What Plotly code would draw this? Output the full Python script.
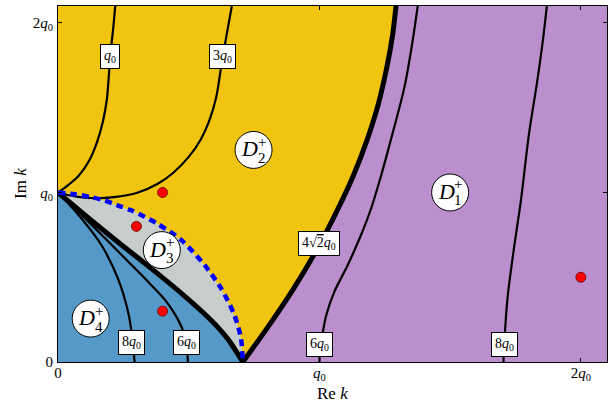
import plotly.graph_objects as go

# axis extent, in units of q0
X_MAX = 2.1
Y_MAX = 2.1

# thick boundary D4 / D3 (from k = i q0 down to the real axis)
bnd_a_x = [0.0, 0.12, 0.24, 0.36, 0.48, 0.58, 0.65, 0.707]
bnd_a_y = [1.0, 0.845, 0.695, 0.548, 0.395, 0.255, 0.135, 0.0]

# thick boundary D2 / D1 (xi = 4*sqrt(2) q0)
bnd_b_x = [0.707, 0.80, 0.90, 1.0, 1.07, 1.13, 1.18, 1.225, 1.258, 1.28, 1.293]
bnd_b_y = [0.0, 0.2, 0.43, 0.69, 0.90, 1.10, 1.30, 1.52, 1.74, 1.93, 2.1]

# dashed boundary D3 / D2
dash_x = [0.0, 0.064, 0.128, 0.178, 0.235, 0.28, 0.331, 0.376, 0.472, 0.561, 0.624, 0.675, 0.70, 0.707]
dash_y = [1.0, 0.99, 0.972, 0.953, 0.92, 0.895, 0.857, 0.82, 0.719, 0.571, 0.434, 0.276, 0.138, 0.0]

# level curves
lvl_q0_x = [0.0, 0.04, 0.08, 0.12, 0.15, 0.172, 0.187, 0.195, 0.203, 0.212, 0.219]
lvl_q0_y = [1.0, 1.045, 1.10, 1.19, 1.30, 1.42, 1.55, 1.70, 1.85, 1.98, 2.1]

lvl_3q0_x = [0.0, 0.07, 0.153, 0.23, 0.306, 0.38, 0.44, 0.50, 0.545, 0.58, 0.605, 0.625, 0.645, 0.665]
lvl_3q0_y = [1.0, 0.975, 0.966, 0.975, 1.0, 1.05, 1.115, 1.21, 1.31, 1.43, 1.56, 1.75, 1.93, 2.1]

lvl_8q0_left_x = [0.0, 0.089, 0.166, 0.229, 0.268, 0.283, 0.293]
lvl_8q0_left_y = [1.0, 0.848, 0.69, 0.493, 0.296, 0.158, 0.0]

lvl_6q0_left_x = [0.0, 0.09, 0.18, 0.27, 0.35, 0.41, 0.45, 0.478, 0.492, 0.497]
lvl_6q0_left_y = [1.0, 0.868, 0.73, 0.59, 0.465, 0.365, 0.275, 0.185, 0.09, 0.0]

lvl_6q0_right_x = [1.0, 1.003, 1.013, 1.026, 1.057, 1.108, 1.159, 1.198, 1.236, 1.28, 1.325, 1.355, 1.376]
lvl_6q0_right_y = [0.0, 0.1, 0.177, 0.276, 0.414, 0.571, 0.749, 0.907, 1.10, 1.35, 1.62, 1.88, 2.1]

lvl_8q0_right_x = [1.704, 1.707, 1.72, 1.745, 1.771, 1.802, 1.832, 1.855, 1.87]
lvl_8q0_right_y = [0.0, 0.109, 0.384, 0.68, 0.956, 1.35, 1.645, 1.90, 2.1]

# contour labels
clabel_x = [0.198, 0.628, 1.0, 0.49, 0.28, 1.0, 1.707]
clabel_y = [1.80, 1.80, 0.70, 0.115, 0.115, 0.105, 0.105]
clabel_text = ["<i>q</i><sub>0</sub>", "3<i>q</i><sub>0</sub>",
               "4√<span style='text-decoration:overline'>2</span><i>q</i><sub>0</sub>",
               "6<i>q</i><sub>0</sub>", "8<i>q</i><sub>0</sub>",
               "6<i>q</i><sub>0</sub>", "8<i>q</i><sub>0</sub>"]

# region labels D_n^+
region_x = [1.5, 0.748, 0.397, 0.125]
region_y = [1.0, 1.251, 0.66, 0.256]
region_idx = ["1", "2", "3", "4"]

# red points
pt_x = [0.4, 0.3, 0.4, 2.0]
pt_y = [1.0, 0.8, 0.3, 0.5]

tick_vals = [0, 1, 2]
tick_text = ["0", "<i>q</i><sub>0</sub>", "2<i>q</i><sub>0</sub>"]

YELLOW = "#f1c40f"
PURPLE = "#bb8fce"
BLUE = "#5499c7"
GRAY = "#c7cdca"
FONT = "Liberation Serif"

fig = go.Figure()

# filled regions (purple is the background)
fig.add_trace(go.Scatter(x=[0] + bnd_b_x + [0], y=[0] + bnd_b_y + [Y_MAX],
                         fill="toself", fillcolor=YELLOW, mode="none", hoverinfo="skip"))
fig.add_trace(go.Scatter(x=dash_x + [0], y=dash_y + [0],
                         fill="toself", fillcolor=GRAY, mode="none", hoverinfo="skip"))
fig.add_trace(go.Scatter(x=bnd_a_x + [0], y=bnd_a_y + [0],
                         fill="toself", fillcolor=BLUE, mode="none", hoverinfo="skip"))

thin = [(lvl_q0_x, lvl_q0_y), (lvl_3q0_x, lvl_3q0_y),
        (lvl_8q0_left_x, lvl_8q0_left_y), (lvl_6q0_left_x, lvl_6q0_left_y),
        (lvl_6q0_right_x, lvl_6q0_right_y), (lvl_8q0_right_x, lvl_8q0_right_y)]
for xs, ys in thin:
    fig.add_trace(go.Scatter(x=xs, y=ys, mode="lines",
                             line=dict(color="black", width=2.2, shape="spline", smoothing=0.9)))

for xs, ys in [(bnd_a_x, bnd_a_y), (bnd_b_x, bnd_b_y)]:
    fig.add_trace(go.Scatter(x=xs, y=ys, mode="lines",
                             line=dict(color="black", width=5, shape="spline", smoothing=0.8)))

fig.add_trace(go.Scatter(x=dash_x, y=dash_y, mode="lines",
                         line=dict(color="#0000ff", width=4.5, dash="7px,5px",
                                   shape="spline", smoothing=0.8)))

fig.add_trace(go.Scatter(x=pt_x, y=pt_y, mode="markers",
                         marker=dict(color="#ff0000", size=10, line=dict(color="#600000", width=0.8))))

annotations = []
for x, y, t in zip(clabel_x, clabel_y, clabel_text):
    annotations.append(dict(x=x, y=y, text=t, showarrow=False, bgcolor="white",
                            bordercolor="black", borderwidth=1, borderpad=3,
                            font=dict(family=FONT, size=14, color="black")))

shapes = []
for x, y, n in zip(region_x, region_y, region_idx):
    shapes.append(dict(type="circle", xref="x", yref="y", xsizemode="pixel", ysizemode="pixel",
                       xanchor=x, yanchor=y, x0=-18.5, x1=18.5, y0=-18.5, y1=18.5,
                       fillcolor="white", line=dict(color="black", width=1), layer="above"))
    annotations.append(dict(x=x, y=y, text="<i>D</i>", showarrow=False, xshift=-4, yshift=1,
                            font=dict(family=FONT, size=22, color="black")))
    annotations.append(dict(x=x, y=y, text="+", showarrow=False, xshift=8, yshift=8,
                            font=dict(family=FONT, size=15, color="black")))
    annotations.append(dict(x=x, y=y, text=n, showarrow=False, xshift=8, yshift=-8,
                            font=dict(family=FONT, size=15, color="black")))

# axis titles
annotations.append(dict(xref="paper", yref="paper", x=0.5, y=0, yshift=-31, text="Re <i>k</i>",
                        xanchor="center", yanchor="middle",
                        showarrow=False, font=dict(family=FONT, size=17, color="black")))
annotations.append(dict(xref="paper", yref="paper", x=0, y=0.5, xshift=-38, text="Im <i>k</i>",
                        xanchor="center", yanchor="middle",
                        textangle=-90, showarrow=False, font=dict(family=FONT, size=17, color="black")))

axis_common = dict(range=[0, X_MAX], tickvals=tick_vals, ticktext=tick_text, automargin=False,
                   showline=True, linecolor="black", linewidth=1.2, mirror="ticks",
                   ticks="inside", ticklen=4, tickcolor="black", showgrid=False, zeroline=False,
                   tickfont=dict(family=FONT, size=15, color="black"))

fig.update_layout(
    width=615, height=405,
    margin=dict(l=58, r=8, t=6, b=43),
    plot_bgcolor=PURPLE, paper_bgcolor="white",
    showlegend=False,
    xaxis=dict(axis_common, ticklabelstandoff=-3),
    yaxis=dict(axis_common, range=[0, Y_MAX], ticklabelstandoff=1),
    shapes=shapes,
    annotations=annotations,
)

fig.write_html("out.html", config={"displayModeBar": False},
               post_script="document.body.style.margin='0';")
